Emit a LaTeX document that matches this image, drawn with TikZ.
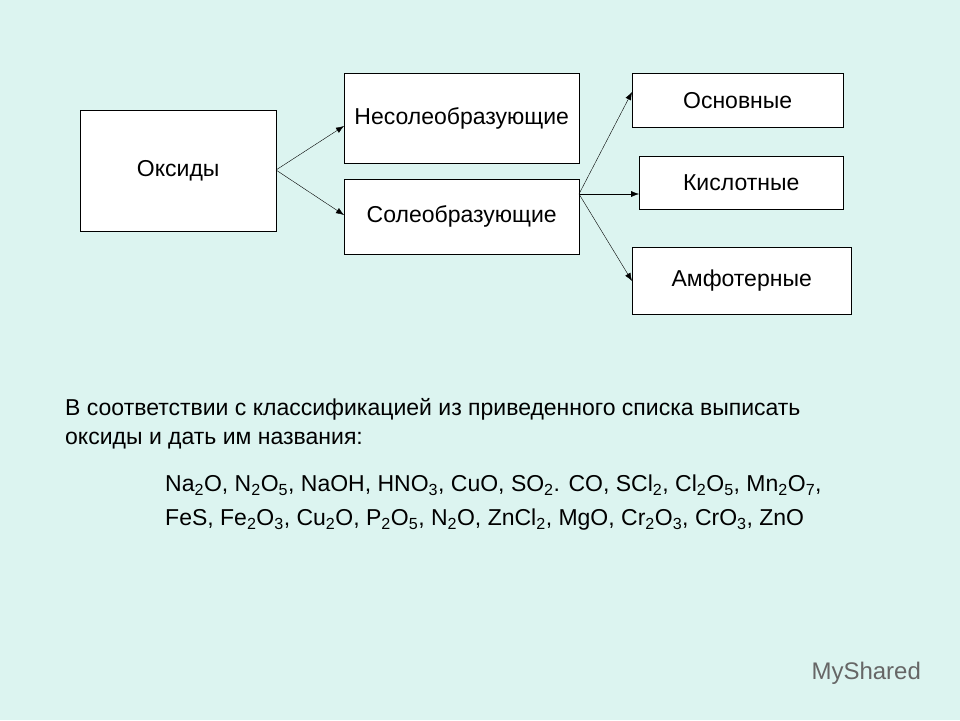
\documentclass[tikz,border=0pt]{standalone}
\usepackage{fontspec}
\setmainfont{Liberation Sans}
\usetikzlibrary{arrows.meta}
\definecolor{bgcol}{RGB}{220,244,240}
\begin{document}
\begin{tikzpicture}[x=1pt,y=-1pt,font=\fontsize{23}{29}\selectfont,
  box/.style={draw,fill=white,anchor=north west,inner sep=0},
  arr/.style={-{Latex[length=8pt,width=6pt]}}]
\fill[bgcol] (0,0) rectangle (960,720);
\useasboundingbox (0,0) rectangle (960,720);

\node[box,minimum width=196,minimum height=121] (OX) at (80,110) {Оксиды};
\node[box,minimum width=235,minimum height=90] (NS) at (344,73) {Несолеобразующие};
\node[box,minimum width=235,minimum height=75] (SO) at (344,179) {Солеобразующие};
\node[box,minimum width=211,minimum height=54] (OS) at (632,73) {Основные};
\node[box,minimum width=204,minimum height=53] (KI) at (639,156) {Кислотные};
\node[box,minimum width=219,minimum height=67] (AM) at (632,247) {Амфотерные};

\coordinate (OXr) at (276,170);
\coordinate (SOr) at (579,194);
\draw[arr] (OXr) -- (NS.west |- 0,126);
\draw[arr] (OXr) -- (SO.west |- 0,215);
\draw[arr] (SOr) -- (OS.west |- 0,92);
\draw[arr] (SOr) -- (KI.west |- SOr);
\draw[arr] (SOr) -- (AM.west |- 0,281);

\node[anchor=north west,align=left,inner sep=0] (TASK) at (65,398)
  {В соответствии с классификацией из приведенного списка выписать\\оксиды и дать им названия:};
\node[anchor=north west,align=justify,text width=738,inner sep=0] (LIST) at (165,475)
  {Na\textsubscript{2}O, N\textsubscript{2}O\textsubscript{5}, NaOH, HNO\textsubscript{3}, CuO, SO\textsubscript{2}. CO, SCl\textsubscript{2}, Cl\textsubscript{2}O\textsubscript{5}, Mn\textsubscript{2}O\textsubscript{7},\\[5pt]
   FeS, Fe\textsubscript{2}O\textsubscript{3}, Cu\textsubscript{2}O, P\textsubscript{2}O\textsubscript{5}, N\textsubscript{2}O, ZnCl\textsubscript{2}, MgO, Cr\textsubscript{2}O\textsubscript{3}, CrO\textsubscript{3}, ZnO};

\node[anchor=west,text=black!60,font=\fontsize{24}{28}\selectfont] (LOGO) at (808,673) {MyShared};
\end{tikzpicture}
\end{document}
